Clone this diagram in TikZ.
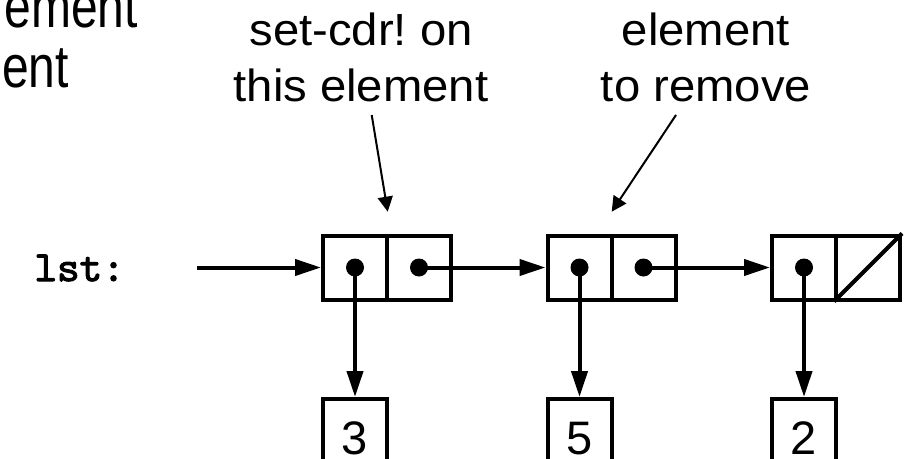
\documentclass[tikz,border=0pt]{standalone}
\usepackage{fontspec}
\setmainfont{Liberation Sans}
\newfontfamily\annfont[FakeStretch=1.05]{Liberation Sans}
\newfontfamily\titlefont[FakeStretch=0.8]{Liberation Sans}
\newfontfamily\lstfont{lmmono10-regular.otf}[FakeBold=2.5]
\usetikzlibrary{arrows.meta}
\begin{document}
\frenchspacing
\begin{tikzpicture}[x=1pt,y=-1pt,
  cell/.style={draw,line width=4pt,minimum size=64pt,inner sep=0pt},
  val/.style={draw,line width=4pt,minimum width=64pt,minimum height=80pt,inner sep=0pt,anchor=north},
  digit/.style={anchor=base,inner sep=0pt,font=\fontsize{47}{50}\selectfont},
  dot/.style={circle,fill,minimum size=18pt,inner sep=0pt},
  ptr/.style={line width=4pt,-{Triangle[length=26pt,width=16pt]}},
  note/.style={line width=2pt,-{Triangle[length=15pt,width=15pt]}},
  ann/.style={anchor=base,inner sep=0pt,font=\annfont\fontsize{45}{57}\selectfont},
  ttl/.style={anchor=base east,inner sep=0pt,font=\titlefont\fontsize{60}{60}\selectfont}]
\useasboundingbox (0,0) rectangle (907,458);
% title (cut off)
\node[ttl] (ttl1) at (138,27) {ement};
\node[ttl] (ttl2) at (69,87.5) {ent};
% annotations
\node[ann] (a1) at (361,45) {set-cdr! on};
\node[ann] (a1b) at (361,101.7) {this element};
\node[ann] (a2) at (706,45) {element};
\node[ann] (a2b) at (706,101.7) {to remove};
% lst label
\node[anchor=base east,inner sep=0pt,font=\lstfont\fontsize{43}{45}\selectfont] (lst) at (125,281) {lst:};
% cons cells
\foreach \i/\x in {1/355,2/579.5,3/804}{
  \node[cell] (car\i) at (\x,267.5) {};
  \node[cell] (cdr\i) at (\x+64,267.5) {};
  \node[dot] (d\i) at (car\i.center) {};
}
\node[dot] (e1) at (cdr1.center) {};
\node[dot] (e2) at (cdr2.center) {};
\draw[line width=4pt] (cdr3.south west) -- (cdr3.north east);
% values
\node[val] (v1) at (355,397) {};
\node[val] (v2) at (579.5,397) {};
\node[val] (v3) at (804,397) {};
\node[digit] (n1) at (355,454) {3};
\node[digit] (n2) at (579.5,454) {5};
\node[digit] (n3) at (804,454) {2};
% pointers
\coordinate (lststart) at (197,267.5);
\draw[ptr] (lststart) -- (car1.west);
\draw[ptr] (e1.center) -- (car2.west);
\draw[ptr] (e2.center) -- (car3.west);
\draw[ptr] (d1.center) -- (v1.north);
\draw[ptr] (d2.center) -- (v2.north);
\draw[ptr] (d3.center) -- (v3.north);
% annotation arrows
\coordinate (n1s) at (371.7,115);
\coordinate (n1e) at (387.7,211.7);
\coordinate (n2s) at (676,115);
\coordinate (n2e) at (611.7,211.7);
\draw[note] (n1s) -- (n1e);
\draw[note] (n2s) -- (n2e);
\end{tikzpicture}
\end{document}
